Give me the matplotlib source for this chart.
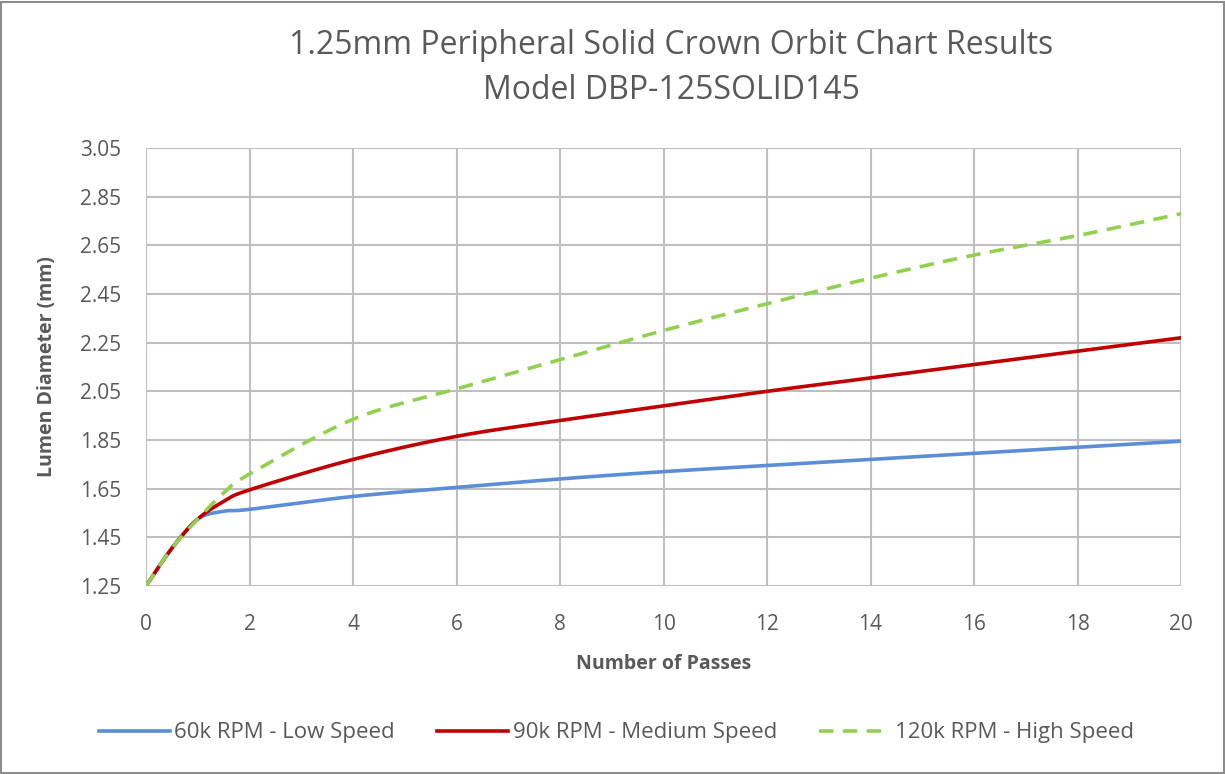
import numpy as np
import matplotlib.pyplot as plt

# data
passes = [0, 0.5, 1, 1.5, 2, 4, 6, 8, 10, 12, 14, 16, 18, 20]
low_speed = [1.25, 1.405, 1.525, 1.557, 1.565, 1.618, 1.655, 1.69, 1.72, 1.745, 1.77, 1.795, 1.82, 1.845]
medium_speed = [1.25, 1.405, 1.525, 1.597, 1.645, 1.77, 1.865, 1.93, 1.99, 2.05, 2.105, 2.16, 2.215, 2.27]
high_speed = [1.25, 1.405, 1.525, 1.632, 1.71, 1.935, 2.06, 2.18, 2.30, 2.41, 2.515, 2.61, 2.69, 2.78]

labels = ['60k RPM - Low Speed', '90k RPM - Medium Speed', '120k RPM - High Speed']
colors = ['#5B8ED6', '#C00000', '#92D050']
yticks = [1.25, 1.45, 1.65, 1.85, 2.05, 2.25, 2.45, 2.65, 2.85, 3.05]
xticks = list(range(0, 21, 2))


def smooth(x, y, n=30):
    # Catmull-Rom through the points, like Excel's smoothed line
    p = np.column_stack([x, y]).astype(float)
    p = np.vstack([p[0], p, p[-1]])
    out = []
    t = np.linspace(0, 1, n)[:, None]
    for i in range(1, len(p) - 2):
        p0, p1, p2, p3 = p[i - 1], p[i], p[i + 1], p[i + 2]
        seg = 0.5 * ((2 * p1) + (-p0 + p2) * t + (2 * p0 - 5 * p1 + 4 * p2 - p3) * t ** 2
                     + (-p0 + 3 * p1 - 3 * p2 + p3) * t ** 3)
        out.append(seg)
    out = np.vstack(out)
    return out[:, 0], out[:, 1]


plt.rcParams['font.family'] = ['Open Sans', 'DejaVu Sans']

fig = plt.figure(figsize=(12.25, 7.74), dpi=100)
ax = fig.add_axes([146 / 1225, 1 - 586 / 774, (1181 - 146) / 1225, (586 - 148) / 774])

for ys, c, lab in zip([low_speed, medium_speed, high_speed], colors, labels):
    sx, sy = smooth(passes, ys)
    if lab.startswith('120k'):
        ax.plot(sx, sy, color=c, lw=2.6, ls=(0, (4, 2.6)), label=lab, zorder=3)
    else:
        ax.plot(sx, sy, color=c, lw=2.6, label=lab, zorder=3)

ax.set_xlim(0, 20)
ax.set_ylim(1.25, 3.05)
ax.set_xticks(xticks)
ax.set_yticks(yticks)
ax.set_yticklabels([f'{v:.2f}' for v in yticks])
ax.grid(True, color='#BFBFBF', lw=1.5)
ax.set_axisbelow(True)
for s in ax.spines.values():
    s.set_visible(False)
ax.tick_params(length=0, labelsize=15, labelcolor='#595959')
ax.tick_params(axis='y', pad=18)
ax.tick_params(axis='x', pad=20)

ax.set_xlabel('Number of Passes', fontsize=14, fontweight='bold', color='#595959', labelpad=14)
ax.set_ylabel('Lumen Diameter (mm)', fontsize=14, fontweight='bold', color='#595959', labelpad=16)

fig.text(0.548, 0.962, '1.25mm Peripheral Solid Crown Orbit Chart Results\nModel DBP-125SOLID145',
         ha='center', va='top', fontsize=23, color='#595959', linespacing=1.45)

fig.legend(loc='center', bbox_to_anchor=(0.503, 0.053), ncol=3, frameon=False,
           fontsize=16, labelcolor='#595959', handlelength=3.2, handletextpad=0.2, columnspacing=1.9)

fig.patches.append(plt.Rectangle((0.001, 0.001), 0.998, 0.997, transform=fig.transFigure,
                                 fill=False, edgecolor='#8C8C8C', lw=1.5))

plt.savefig('out.png', dpi=100)
